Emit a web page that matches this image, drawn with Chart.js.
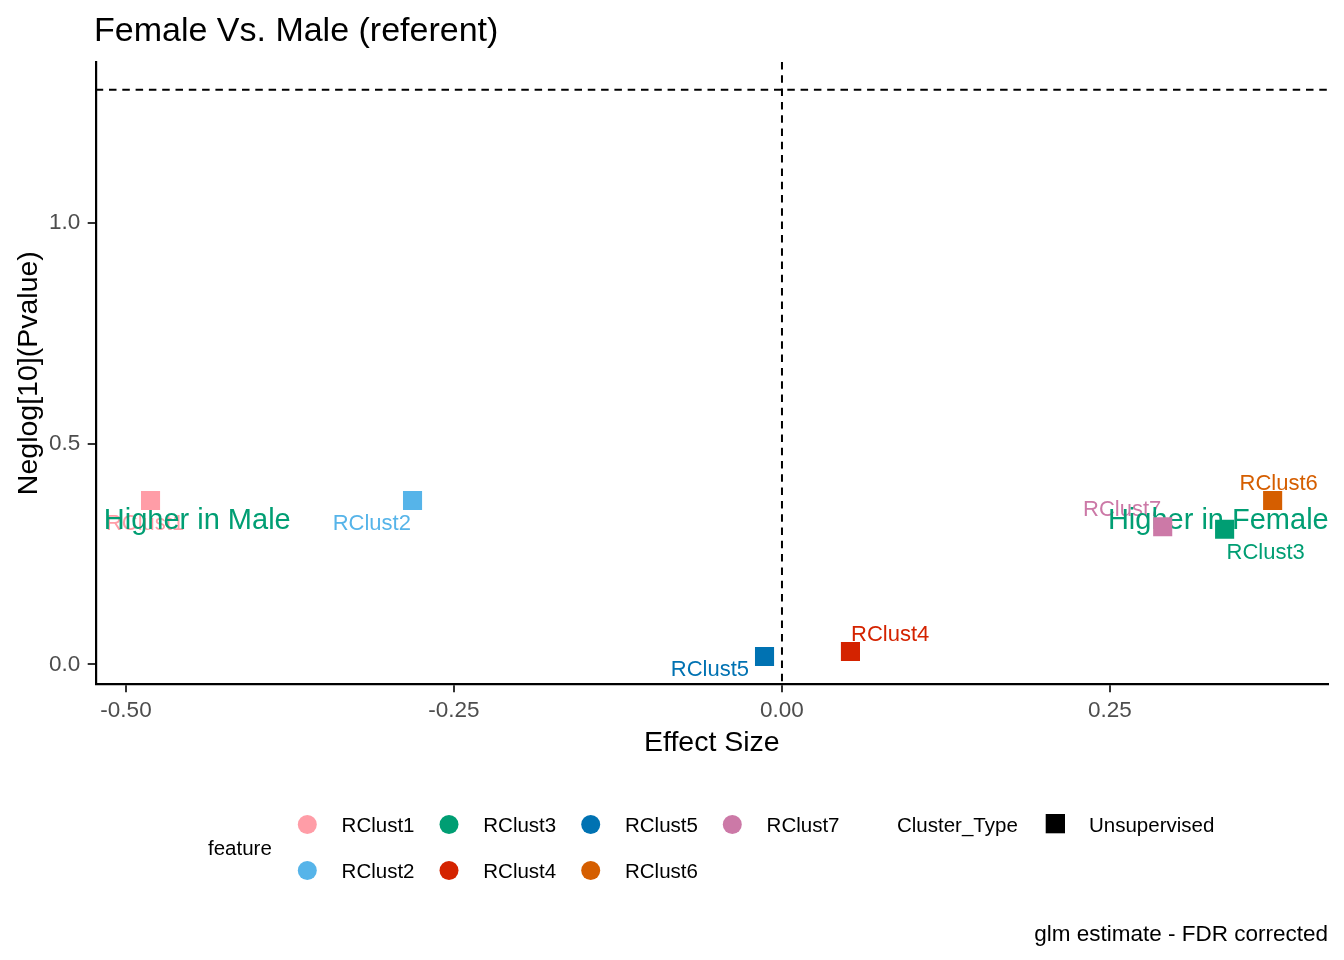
<!DOCTYPE html>
<html>
<head>
<meta charset="utf-8">
<script src="https://cdn.jsdelivr.net/npm/chart.js@4"></script>
<style>
html,body{margin:0;padding:0;background:#fff;}
#wrap{width:1344px;height:960px;position:relative;}
</style>
</head>
<body>
<div id="wrap"><canvas id="c" width="1344" height="960"></canvas></div>
<script>
// ---- data ----
const features = ['RClust1','RClust2','RClust3','RClust4','RClust5','RClust6','RClust7'];
const effectSize = [-0.4813, -0.2816, 0.3374, 0.0522, -0.0133, 0.3740, 0.2902];
const negLogP   = [0.3709, 0.3709, 0.3057, 0.0290, 0.0177, 0.3709, 0.3114];
const featureColors = ['#FF9DA7','#56B4E9','#009E73','#D42300','#0072B2','#D55E00','#CC79A7'];
const labelOffsets = [[-5.5,21.5],[-40.7,21.7],[41.1,21.4],[39.7,-18.2],[-54.6,11.2],[6,-18.8],[-40.5,-18.5]];
const xTicks = [-0.5, -0.25, 0, 0.25];
const xTickLabels = ['-0.50','-0.25','0.00','0.25'];
const yTicks = [0, 0.5, 1.0];
const yTickLabels = ['0.0','0.5','1.0'];
const vRefLines = [0];
const hRefLines = [1.30103];
const annotTexts = ['Higher in Male','Higher in Female'];
const annotX = [-0.4457, 0.3326];
const annotY = [0.3306, 0.3306];
const legendRow1 = ['RClust1','RClust3','RClust5','RClust7'];
const legendRow2 = ['RClust2','RClust4','RClust6'];
const clusterTypes = ['Unsupervised'];

const FONT = "'Liberation Sans', Arial, sans-serif";

const datasets = features.map((f,i)=>({
  label: f,
  data: [{x: effectSize[i], y: negLogP[i]}],
  pointStyle: 'rect',
  pointRadius: 13.5,
  pointHoverRadius: 13.5,
  backgroundColor: featureColors[i],
  borderWidth: 0,
  hoverBorderWidth: 0
}));

const decor = {
  id: 'decor',
  beforeDatasetsDraw(chart){
    const ctx = chart.ctx, xs = chart.scales.x, ys = chart.scales.y, a = chart.chartArea;
    ctx.save();
    ctx.strokeStyle = '#000';
    ctx.lineWidth = 2;
    ctx.setLineDash([7.5,5.8]);
    vRefLines.forEach(v=>{
      const px = xs.getPixelForValue(v);
      ctx.beginPath(); ctx.moveTo(px, a.top); ctx.lineTo(px, a.bottom); ctx.stroke();
    });
    hRefLines.forEach(v=>{
      const py = ys.getPixelForValue(v);
      ctx.beginPath(); ctx.moveTo(a.left, py); ctx.lineTo(a.right, py); ctx.stroke();
    });
    ctx.setLineDash([]);
    // point labels
    ctx.font = '22px ' + FONT;
    ctx.textAlign = 'center';
    ctx.textBaseline = 'alphabetic';
    features.forEach((f,i)=>{
      const el = chart.getDatasetMeta(i).data[0];
      ctx.fillStyle = featureColors[i];
      ctx.fillText(f, el.x + labelOffsets[i][0], el.y + labelOffsets[i][1] + 0.358*22);
    });
    // annotations
    ctx.font = '29px ' + FONT;
    ctx.fillStyle = '#009E73';
    annotTexts.forEach((t,i)=>{
      ctx.fillText(t, xs.getPixelForValue(annotX[i]), ys.getPixelForValue(annotY[i]) + 0.358*29);
    });
    ctx.restore();
  },
  afterDraw(chart){
    const ctx = chart.ctx, a = chart.chartArea;
    ctx.save();
    ctx.fillStyle = '#000';
    ctx.textBaseline = 'alphabetic';
    // title
    ctx.font = '34px ' + FONT;
    ctx.textAlign = 'left';
    ctx.fillText('Female Vs. Male (referent)', 94, 41);
    // axis titles
    ctx.font = '28.5px ' + FONT;
    ctx.textAlign = 'center';
    ctx.fillText('Effect Size', (a.left + a.right)/2, 751);
    ctx.save();
    ctx.translate(36.7, (a.top + a.bottom)/2);
    ctx.rotate(-Math.PI/2);
    ctx.fillText('Neglog[10](Pvalue)', 0, 0);
    ctx.restore();
    // caption
    ctx.font = '22.5px ' + FONT;
    ctx.textAlign = 'right';
    ctx.fillText('glm estimate - FDR corrected', 1328, 941);
    // legend
    ctx.font = '20.5px ' + FONT;
    ctx.textAlign = 'left';
    ctx.fillText('feature', 208, 855);
    const colX = [307.3, 449, 590.7, 732.3];
    const rowY = [824.5, 870.5];
    [legendRow1, legendRow2].forEach((row, r)=>{
      row.forEach((f, c)=>{
        const idx = features.indexOf(f);
        ctx.fillStyle = featureColors[idx];
        ctx.beginPath(); ctx.arc(colX[c], rowY[r], 9.5, 0, Math.PI*2); ctx.fill();
        ctx.fillStyle = '#000';
        ctx.fillText(f, colX[c] + 34.3, rowY[r] + 7.9);
      });
    });
    ctx.fillText('Cluster_Type', 897, 832.4);
    ctx.fillRect(1045.7, 814, 19.3, 19.3);
    ctx.fillText(clusterTypes[0], 1089, 832.4);
    ctx.restore();
  }
};

new Chart(document.getElementById('c'), {
  type: 'scatter',
  data: { datasets },
  options: {
    responsive: false,
    animation: false,
    events: [],
    layout: { padding: { top: 62, right: 16, left: 0, bottom: 0 } },
    plugins: { legend: { display: false }, tooltip: { enabled: false }, title: { display: false } },
    scales: {
      x: {
        type: 'linear',
        min: -0.5231, max: 0.4162,
        afterFit(s){ s.height = 960 - 684.3; },
        afterBuildTicks(s){ s.ticks = xTicks.map(v=>({value:v})); },
        border: { display: true, color: '#000', width: 2.2 },
        grid: { display: true, drawOnChartArea: false, drawTicks: true, tickLength: 8, color: '#333333', lineWidth: 2 },
        ticks: {
          padding: 5,
          color: '#4D4D4D',
          font: { family: FONT, size: 22.5 },
          maxRotation: 0,
          callback(v){ const i = xTicks.indexOf(v); return i >= 0 ? xTickLabels[i] : ''; }
        }
      },
      y: {
        type: 'linear',
        min: -0.0453, max: 1.364,
        afterFit(s){ s.width = 95.7; },
        afterBuildTicks(s){ s.ticks = yTicks.map(v=>({value:v})); },
        border: { display: true, color: '#000', width: 2.2 },
        grid: { display: true, drawOnChartArea: false, drawTicks: true, tickLength: 8, color: '#333333', lineWidth: 2 },
        ticks: {
          padding: 7.5,
          color: '#4D4D4D',
          font: { family: FONT, size: 22.5 },
          callback(v){ const i = yTicks.indexOf(v); return i >= 0 ? yTickLabels[i] : ''; }
        }
      }
    }
  },
  plugins: [decor]
});
</script>
</body>
</html>
